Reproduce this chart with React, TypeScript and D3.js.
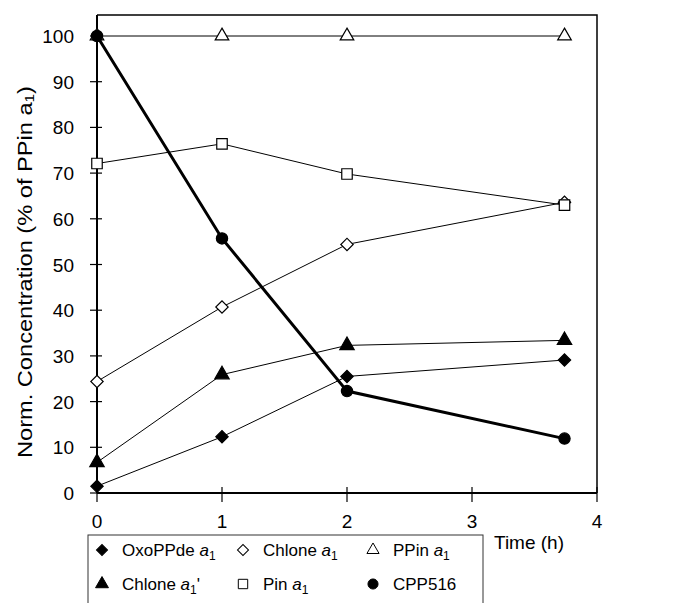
import React, { useEffect, useRef } from 'react';
import * as d3 from 'd3';

const times = [0, 1, 2, 3.74];
const oxoPPde = [1.5, 12.3, 25.5, 29.1];
const chlone = [24.4, 40.7, 54.4, 63.6];
const ppin = [100, 100, 100, 100];
const chlonePrime = [6.7, 25.9, 32.3, 33.4];
const pin = [72.1, 76.4, 69.8, 63];
const cpp516 = [100, 55.7, 22.3, 11.9];
const yTicks = [0, 10, 20, 30, 40, 50, 60, 70, 80, 90, 100];
const xTicks = [0, 1, 2, 3, 4];

const FONT = 'Liberation Sans, Arial, sans-serif';

type Series = {
  key: string;
  label: string;
  sub: string;
  prime?: boolean;
  values: number[];
  symbol: d3.SymbolType;
  size: number;
  rotate: number;
  filled: boolean;
  width: number;
};

const series: Series[] = [
  { key: 'oxo', label: 'OxoPPde ', sub: '1', values: oxoPPde, symbol: d3.symbolSquare, size: 76, rotate: 45, filled: true, width: 1 },
  { key: 'chl', label: 'Chlone ', sub: '1', values: chlone, symbol: d3.symbolSquare, size: 76, rotate: 45, filled: false, width: 1 },
  { key: 'ppin', label: 'PPin ', sub: '1', values: ppin, symbol: d3.symbolTriangle, size: 80, rotate: 0, filled: false, width: 1 },
  { key: 'chlp', label: 'Chlone ', sub: '1', prime: true, values: chlonePrime, symbol: d3.symbolTriangle, size: 90, rotate: 0, filled: true, width: 1 },
  { key: 'pin', label: 'Pin ', sub: '1', values: pin, symbol: d3.symbolSquare, size: 110, rotate: 0, filled: false, width: 1 },
  { key: 'cpp', label: 'CPP516', sub: '', values: cpp516, symbol: d3.symbolCircle, size: 100, rotate: 0, filled: true, width: 3 },
];

const App = () => {
  const ref = useRef<SVGSVGElement | null>(null);

  useEffect(() => {
    const svg = d3.select(ref.current);
    svg.selectAll('*').remove();

    const left = 97, right = 597, top = 15, bottom = 493;
    const x = d3.scaleLinear().domain([0, 4]).range([left, right]);
    const y = d3.scaleLinear().domain([0, 100]).range([bottom, 36]);

    // frame (top and right)
    svg.append('path')
      .attr('d', `M${left},${top}H${right}V${bottom}`)
      .attr('fill', 'none').attr('stroke', '#000').attr('stroke-width', 1.5);

    // axes
    svg.append('line').attr('x1', left).attr('x2', left).attr('y1', top).attr('y2', bottom)
      .attr('stroke', '#000').attr('stroke-width', 2);
    svg.append('line').attr('x1', left).attr('x2', right).attr('y1', bottom).attr('y2', bottom)
      .attr('stroke', '#000').attr('stroke-width', 2);

    yTicks.forEach(t => {
      svg.append('line').attr('x1', left - 7).attr('x2', left + 5).attr('y1', y(t)).attr('y2', y(t))
        .attr('stroke', '#000').attr('stroke-width', 1.2);
      svg.append('text').attr('x', 74).attr('y', y(t) + 7).attr('text-anchor', 'end')
        .attr('font-family', FONT).attr('font-size', 19).text(t);
    });
    xTicks.forEach(t => {
      svg.append('line').attr('x1', x(t)).attr('x2', x(t)).attr('y1', bottom - 6).attr('y2', bottom + 9)
        .attr('stroke', '#000').attr('stroke-width', 1.2);
      svg.append('text').attr('x', x(t)).attr('y', 528).attr('text-anchor', 'middle')
        .attr('font-family', FONT).attr('font-size', 19).text(t);
    });

    // y label
    const yl = svg.append('text')
      .attr('transform', `translate(32,272) rotate(-90)`)
      .attr('text-anchor', 'middle').attr('font-family', FONT).attr('font-size', 20)
      .attr('textLength', 372).attr('lengthAdjust', 'spacingAndGlyphs');
    yl.append('tspan').text('Norm. Concentration (% of PPin a');
    yl.append('tspan').attr('font-size', 13).attr('dy', 2).text('1');
    yl.append('tspan').attr('dy', -2).text(')');

    svg.append('text').attr('x', 494).attr('y', 549).attr('font-family', FONT).attr('font-size', 19).text('Time (h)');

    // lines and markers
    const line = d3.line<number>().x((_, i) => x(times[i])).y(d => y(d));
    series.forEach(s => {
      svg.append('path').attr('d', line(s.values))
        .attr('fill', 'none').attr('stroke', '#000').attr('stroke-width', s.width);
    });
    series.forEach(s => {
      s.values.forEach((v, i) => {
        svg.append('path')
          .attr('d', d3.symbol().type(s.symbol).size(s.size)())
          .attr('transform', `translate(${x(times[i])},${y(v)}) rotate(${s.rotate})`)
          .attr('fill', s.filled ? '#000' : '#fff')
          .attr('stroke', '#000').attr('stroke-width', 1.2);
      });
    });

    // legend
    svg.append('rect').attr('x', 88).attr('y', 535).attr('width', 395).attr('height', 80)
      .attr('fill', '#fff').attr('stroke', '#333').attr('stroke-width', 1);
    const colX = [102, 243, 373];
    const rowY = [550, 584];
    series.forEach((s, i) => {
      const cx = colX[i % 3];
      const cy = rowY[Math.floor(i / 3)];
      svg.append('path')
        .attr('d', d3.symbol().type(s.symbol).size(s.size * 0.8)())
        .attr('transform', `translate(${cx},${cy}) rotate(${s.rotate})`)
        .attr('fill', s.filled ? '#000' : '#fff')
        .attr('stroke', '#000').attr('stroke-width', 1);
      const t = svg.append('text').attr('x', cx + 20).attr('y', cy + 6)
        .attr('font-family', FONT).attr('font-size', 17);
      t.append('tspan').text(s.label);
      if (s.sub) {
        t.append('tspan').attr('font-style', 'italic').text('a');
        t.append('tspan').attr('font-size', 12).attr('dy', 4).text(s.sub);
        if (s.prime) t.append('tspan').attr('dy', -4).text("'");
      }
    });
  }, []);

  return (
    <svg ref={ref} width={684} height={603}
      style={{ position: 'absolute', left: 0, top: 0, background: '#fff' }} />
  );
};

export default App;
